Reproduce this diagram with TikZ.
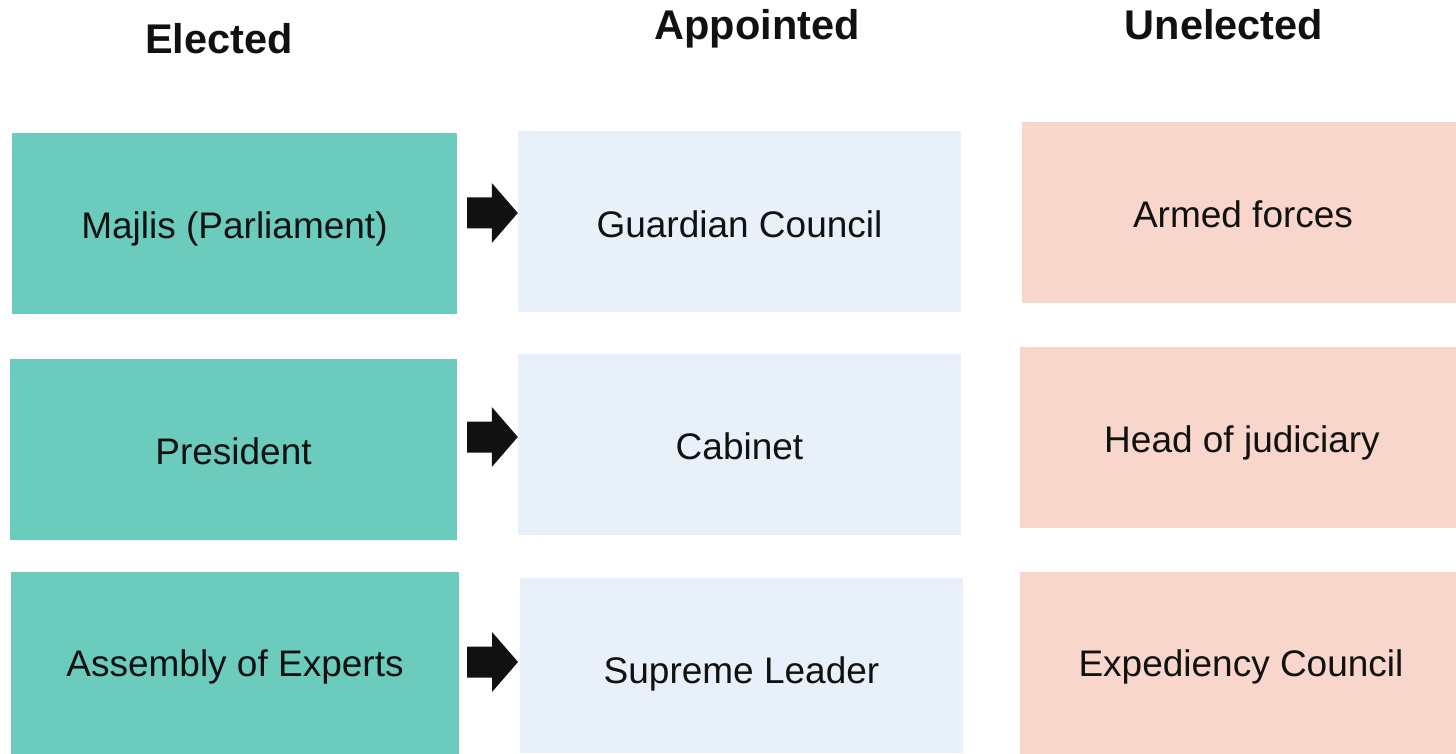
\documentclass[tikz,border=0pt]{standalone}
\usepackage{fontspec}
\setmainfont{Liberation Sans}
\usetikzlibrary{calc}
\definecolor{gfill}{HTML}{6BCBBC}
\definecolor{bfill}{HTML}{E8F0F9}
\definecolor{pfill}{HTML}{F9D6CC}
\definecolor{arrowcol}{HTML}{111111}
\definecolor{txt}{HTML}{111111}
\tikzset{
  box/.style={rectangle, inner sep=0pt, text depth=4pt, text=txt,
    font=\fontsize{37}{44}\selectfont},
  gbox/.style={box, fill=gfill},
  bbox/.style={box, fill=bfill},
  pbox/.style={box, fill=pfill},
  header/.style={anchor=base, inner sep=0pt, text=txt,
    font=\fontsize{41.5}{48}\selectfont\bfseries},
  blockarrow/.style={fill=arrowcol, to path={
    ($(\tikztostart)+(0,15.5)$) -- ($(\tikztotarget)+(-26,15.5)$) --
    ($(\tikztotarget)+(-26,30)$) -- (\tikztotarget) --
    ($(\tikztotarget)+(-26,-30)$) -- ($(\tikztotarget)+(-26,-15.5)$) --
    ($(\tikztostart)+(0,-15.5)$) -- cycle}}
}
\begin{document}
\begin{tikzpicture}[x=1pt,y=-1pt]
\useasboundingbox[fill=white] (0,0) rectangle (1456,754);
% headers
\node[header] (hE) at (219,54) {Elected};
\node[header] (hA) at (757,40) {Appointed};
\node[header] (hU) at (1224,40) {Unelected};
% row 1
\node[gbox, minimum width=445pt, minimum height=181pt, text height=35pt] (g1) at (234.5,223.5) {Majlis (Parliament)};
\node[bbox, minimum width=443pt, minimum height=181pt, text height=35pt] (b1) at (739.5,221.5) {Guardian Council};
\node[pbox, minimum width=442pt, minimum height=181pt, text height=33pt] (p1) at (1243,212.5) {Armed forces};
% row 2
\node[gbox, minimum width=447pt, minimum height=181pt, text height=33pt] (g2) at (233.5,449.5) {President};
\node[bbox, minimum width=443pt, minimum height=181pt, text height=33pt] (b2) at (739.5,444.5) {Cabinet};
\node[pbox, minimum width=444pt, minimum height=181pt, text height=33pt] (p2) at (1242,437.5) {Head of judiciary};
% row 3
\node[gbox, minimum width=448pt, minimum height=182pt, text height=30pt] (g3) at (235,663) {Assembly of Experts};
\node[bbox, minimum width=443pt, minimum height=175pt, text height=39pt] (b3) at (741.5,665.5) {Supreme Leader};
\node[pbox, minimum width=442pt, minimum height=182pt, text height=30pt] (p3) at (1241,663) {Expediency Council};
% arrows
\coordinate (s1) at (467,213);
\coordinate (t1) at (b1.west |- 0,213);
\coordinate (s2) at (467,437);
\coordinate (t2) at (b2.west |- 0,437);
\coordinate (s3) at (467,662);
\coordinate (t3) at (518,662);
\path[blockarrow] (s1) to (t1);
\path[blockarrow] (s2) to (t2);
\path[blockarrow] (s3) to (t3);
\end{tikzpicture}
\end{document}
